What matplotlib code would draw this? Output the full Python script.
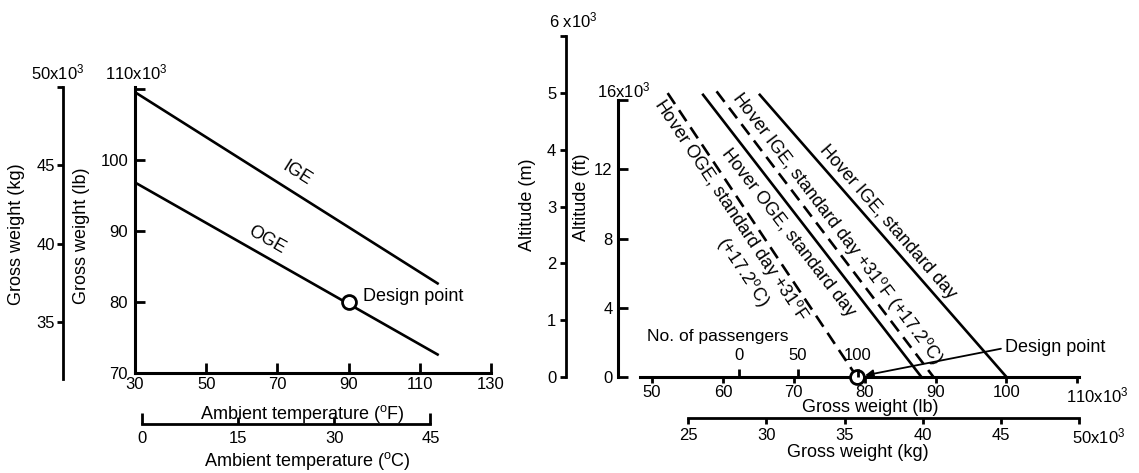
import numpy as np
import matplotlib.pyplot as plt

plt.rcParams['font.family'] = ['Liberation Sans', 'DejaVu Sans']
plt.rcParams['mathtext.fontset'] = 'custom'
plt.rcParams['mathtext.rm'] = 'Liberation Sans'
plt.rcParams['mathtext.it'] = 'Liberation Sans:italic'
plt.rcParams['mathtext.bf'] = 'Liberation Sans:bold'

LB_PER_KG = 2.2046
FT_PER_M = 3.2808

# left panel: gross weight (x10^3 lb) vs ambient temperature (F)
temp_f = [30, 115]
ige_lb = [109.5, 82.6]
oge_lb = [96.8, 72.6]
design_temp_f = 90
design_lb = 80

# right panel: altitude (x10^3 ft) vs gross weight (x10^3 lb)
oge_hot_lb = [52.2, 78.9]
oge_hot_ft = [16.4, 0]
oge_std_lb = [57.2, 88.0]
oge_std_ft = [16.3, 0]
ige_hot_lb = [59.1, 89.7]
ige_hot_ft = [16.5, 0]
ige_std_lb = [65.2, 100.0]
ige_std_ft = [16.3, 0]
design_weight_lb = 78.9

# passenger scale on the weight axis
pax_empty_lb = 62.2
lb_per_pax = 0.168
pax_ticks = [0, 50, 100]

W, H = 1139, 473
fig = plt.figure(figsize=(W / 100, H / 100), dpi=100)


def box(x0, y0, x1, y1):
    # pixel box, origin top-left -> figure rect
    return [x0 / W, 1 - y1 / H, (x1 - x0) / W, (y1 - y0) / H]


def fig_xy(x, y):
    return x / W, 1 - y / H


def only_spine(a, side):
    a.patch.set_visible(False)
    for s in a.spines.values():
        s.set_visible(False)
    a.spines[side].set_visible(True)
    a.spines[side].set_linewidth(2)


def slope_angle(xs, ys):
    return np.degrees(np.arctan2(ys[1] - ys[0], xs[1] - xs[0]))


deg = '$^{\\rm o}$'
TICK = 12
LAB = 13

# ---------------- left panel ----------------
ax1 = fig.add_axes(box(135, 87, 491, 373))
ax1.plot(temp_f, ige_lb, color='k', lw=1.9)
ax1.plot(temp_f, oge_lb, color='k', lw=1.9)
ax1.plot(design_temp_f, design_lb, 'o', ms=10, mfc='white', mec='k', mew=2, zorder=5)
ax1.set_xlim(30, 130)
ax1.set_ylim(70, 50 * LB_PER_KG)
ax1.set_xticks(range(30, 131, 20))
ax1.set_yticks([70, 80, 90, 100, 110], ['70', '80', '90', '100', ''])
ax1.spines[['top', 'right']].set_visible(False)
ax1.spines[['left', 'bottom']].set_linewidth(2.2)
ax1.tick_params(axis='x', direction='in', length=7, width=2, labelsize=TICK, pad=3)
ax1.tick_params(axis='y', direction='in', length=7, width=2, labelsize=TICK, pad=5)
ax1.set_xlabel('Ambient temperature (' + deg + 'F)', fontsize=LAB, va='center')
ax1.xaxis.set_label_coords(*fig_xy(302, 414), transform=fig.transFigure)
ax1.set_ylabel('Gross weight (lb)', fontsize=LAB, va='center')
ax1.yaxis.set_label_coords(*fig_xy(82, 236), transform=fig.transFigure)
ax1.annotate('110x10$^3$', xy=(0, 1), xycoords='axes fraction', xytext=(1, 3),
             textcoords='offset points', ha='center', va='bottom', fontsize=TICK)

ax1.text(75.5, 98.05, 'IGE', fontsize=LAB, ha='center', va='center',
         rotation=slope_angle(temp_f, ige_lb), transform_rotates_text=True,
         rotation_mode='anchor')
ax1.text(67.1, 88.65, 'OGE', fontsize=LAB, ha='center', va='center',
         rotation=slope_angle(temp_f, oge_lb), transform_rotates_text=True,
         rotation_mode='anchor')
ax1.text(94.0, 80.8, 'Design point', fontsize=LAB, ha='left', va='center')

# kg scale beside the lb scale
kg1 = fig.add_axes(box(63, 87, 64, 373))
only_spine(kg1, 'left')
kg1.set_xticks([])
kg1.set_ylim(70 / LB_PER_KG, 50)
kg1.spines['left'].set_bounds(31.4, 50)
kg1.set_yticks([35, 40, 45, 50], ['35', '40', '45', ''])
kg1.tick_params(axis='y', direction='out', length=4, width=2, labelsize=TICK, pad=2)
kg1.set_ylabel('Gross weight (kg)', fontsize=LAB, va='center')
kg1.yaxis.set_label_coords(*fig_xy(17, 234), transform=fig.transFigure)
kg1.annotate('50x10$^3$', xy=(0, 1), xycoords='axes fraction', xytext=(-4, 3),
             textcoords='offset points', ha='center', va='bottom', fontsize=TICK)

# Celsius scale below the Fahrenheit scale
c1 = fig.add_axes(box(135, 423, 491, 424))
only_spine(c1, 'bottom')
c1.set_yticks([])
c1.set_xlim((30 - 32) * 5 / 9, (130 - 32) * 5 / 9)
c1.spines['bottom'].set_bounds(0, 45)
c1.set_xticks([0, 45])
c1.set_xticks([15, 30], ['15', '30'], minor=True)
c1.tick_params(axis='x', which='both', direction='in', width=2, labelsize=TICK, pad=5)
c1.tick_params(axis='x', which='major', length=8)
c1.tick_params(axis='x', which='minor', length=5)
c1.set_xlabel('Ambient temperature (' + deg + 'C)', fontsize=LAB, va='center')
c1.xaxis.set_label_coords(*fig_xy(307, 461), transform=fig.transFigure)

# ---------------- right panel ----------------
ax2 = fig.add_axes(box(640, 100, 1079, 377))
solid = dict(color='k', lw=1.9, clip_on=False)
dashed = dict(color='k', lw=1.9, clip_on=False, ls=(0, (5, 2.8)))
ax2.plot(oge_hot_lb, oge_hot_ft, **dashed)
ax2.plot(oge_std_lb, oge_std_ft, **solid)
ax2.plot(ige_hot_lb, ige_hot_ft, **dashed)
ax2.plot(ige_std_lb, ige_std_ft, **solid)
ax2.plot(design_weight_lb, 0, 'o', ms=10, mfc='white', mec='k', mew=2, zorder=5,
         clip_on=False)
ax2.set_xlim(48.3, 50 * LB_PER_KG)
ax2.set_ylim(0, 16)
ax2.set_xticks(range(50, 111, 10), ['50', '60', '70', '80', '90', '100', ''])
ax2.set_yticks([0, 4, 8, 12, 16], ['0', '4', '8', '12', ''])
ax2.spines[['top', 'right']].set_visible(False)
ax2.spines[['left', 'bottom']].set_linewidth(2.2)
ax2.spines['left'].set_position(('outward', 15.8))
ax2.spines['left'].set_bounds(0, 16)
ax2.tick_params(axis='x', direction='out', length=4, width=2, labelsize=TICK, pad=2)
ax2.tick_params(axis='y', direction='in', length=7, width=2, labelsize=TICK, pad=4)
ax2.set_xlabel('Gross weight (lb)', fontsize=LAB, va='center')
ax2.xaxis.set_label_coords(*fig_xy(870, 407), transform=fig.transFigure)
ax2.set_ylabel('Altitude (ft)', fontsize=LAB, va='center')
ax2.yaxis.set_label_coords(*fig_xy(581, 197), transform=fig.transFigure)
ax2.annotate('110x10$^3$', xy=(110, 0), xycoords=('data', 'axes fraction'),
             xytext=(14, -6), textcoords='offset points', ha='center', va='top',
             fontsize=TICK)
ax2.annotate('16x10$^3$', xy=(0, 1), xycoords='axes fraction', xytext=(-11.5, 7),
             textcoords='offset points', ha='center', va='center', fontsize=TICK)

line_labels = [
    (83.3, 8.95, 'Hover IGE, standard day', ige_std_lb, ige_std_ft),
    (76.2, 8.6, 'Hover IGE, standard day +31' + deg + 'F (+17.2' + deg + 'C)',
     ige_hot_lb, ige_hot_ft),
    (69.2, 8.32, 'Hover OGE, standard day', oge_std_lb, oge_std_ft),
    (61.1, 9.65, 'Hover OGE, standard day +31' + deg + 'F', oge_hot_lb, oge_hot_ft),
    (62.8, 6.07, '(+17.2' + deg + 'C)', oge_hot_lb, oge_hot_ft),
]
for x, y, s, xs, ys in line_labels:
    ax2.text(x, y, s, fontsize=LAB, ha='center', va='center',
             rotation=slope_angle(xs, ys), transform_rotates_text=True,
             rotation_mode='anchor')

ax2.annotate('Design point', xy=(design_weight_lb, 0), xytext=(99.8, 1.68),
             ha='left', va='center', fontsize=LAB,
             arrowprops=dict(arrowstyle='-|>', color='k', lw=1.3, shrinkA=1,
                             shrinkB=6, mutation_scale=12, relpos=(0, 0.5)))

# passenger scale on the lb axis
pax = fig.add_axes(box(640, 377, 1079, 378))
only_spine(pax, 'top')
pax.spines['top'].set_visible(False)
pax.set_yticks([])
lo, hi = ax2.get_xlim()
pax.set_xlim((lo - pax_empty_lb) / lb_per_pax, (hi - pax_empty_lb) / lb_per_pax)
pax.xaxis.tick_top()
pax.set_xticks(pax_ticks)
pax.tick_params(axis='x', direction='out', length=6, width=2, labelsize=TICK, pad=4)
pax.set_xlabel('No. of passengers', fontsize=LAB - 0.5, va='center')
pax.xaxis.set_label_coords(*fig_xy(718, 336), transform=fig.transFigure)

# kg scale below the lb scale
kg2 = fig.add_axes(box(640, 417, 1079, 418))
only_spine(kg2, 'bottom')
kg2.set_yticks([])
kg2.set_xlim(lo / LB_PER_KG, hi / LB_PER_KG)
kg2.spines['bottom'].set_bounds(25, 50)
kg2.set_xticks([25, 30, 35, 40, 45, 50], ['25', '30', '35', '40', '45', ''])
kg2.tick_params(axis='x', direction='out', length=4, width=2, labelsize=TICK, pad=3)
kg2.set_xlabel('Gross weight (kg)', fontsize=LAB, va='center')
kg2.xaxis.set_label_coords(*fig_xy(858, 452), transform=fig.transFigure)
kg2.annotate('50x10$^3$', xy=(1, 0), xycoords='axes fraction', xytext=(14, -6),
             textcoords='offset points', ha='center', va='top', fontsize=TICK)

# metre scale beside the ft scale
ft_px = 277 / 16
m_top = 377 - 6 * FT_PER_M * ft_px
m_ax = fig.add_axes(box(566, m_top, 567, 377))
only_spine(m_ax, 'left')
m_ax.set_xticks([])
m_ax.set_ylim(0, 6)
m_ax.set_yticks(range(7), ['0', '1', '2', '3', '4', '5', ''])
m_ax.tick_params(axis='y', direction='out', length=4, width=2, labelsize=TICK, pad=3)
m_ax.set_ylabel('Altitude (m)', fontsize=LAB, va='center')
m_ax.yaxis.set_label_coords(*fig_xy(527, 205), transform=fig.transFigure)
m_ax.annotate('6 x10$^3$', xy=(0, 1), xycoords='axes fraction', xytext=(5, 11),
              textcoords='offset points', ha='center', va='center', fontsize=TICK)

fig.savefig('out.png', dpi=100)
